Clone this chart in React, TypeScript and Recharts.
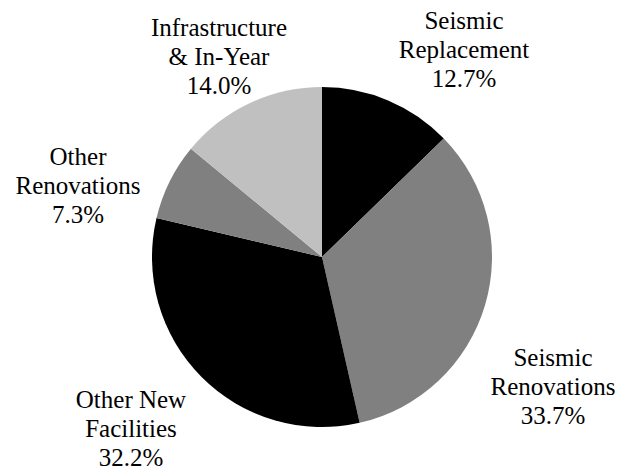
import { PieChart, Pie, Cell } from 'recharts';

// slice names, split where the label wraps
const CATEGORIES = [
  'Seismic\nReplacement',
  'Seismic\nRenovations',
  'Other New\nFacilities',
  'Other\nRenovations',
  'Infrastructure\n& In-Year',
];
const SHARES = [12.7, 33.7, 32.2, 7.3, 14.0];
const COLORS = ['#000000', '#808080', '#000000', '#808080', '#c0c0c0'];

// label anchor: centre x and first baseline
const LABEL_POS = [
  { x: 464, y: 29 },
  { x: 553, y: 366 },
  { x: 131, y: 408 },
  { x: 78, y: 165 },
  { x: 219, y: 36 },
];
const LINE_H = 29;
const FONT = '"Liberation Serif", "Times New Roman", Tinos, serif';

const data = CATEGORIES.map((name, i) => ({ name, value: SHARES[i] }));

const css = `
html body #root .pie-wrap, html body #root .pie-wrap *,
html body #root .pie-wrap svg text, html body #root .pie-wrap svg tspan {
  font-family: ${FONT} !important;
}
html body #root .pie-wrap .pie-label { font-size: 25px !important; }
`;

function renderLabel(props: any) {
  const { index } = props;
  const pos = LABEL_POS[index];
  const lines = [...CATEGORIES[index].split('\n'), `${SHARES[index].toFixed(1)}%`];
  return (
    <text
      key={`lbl-${index}`}
      className="pie-label"
      x={pos.x}
      y={pos.y}
      textAnchor="middle"
      fill="#000"
      style={{ fontFamily: FONT, fontSize: 25 }}
    >
      {lines.map((l, i) => (
        <tspan key={i} x={pos.x} y={pos.y + i * LINE_H} style={{ fontFamily: FONT }}>
          {l}
        </tspan>
      ))}
    </text>
  );
}

export default function App() {
  return (
    <div
      className="pie-wrap"
      style={{ position: 'absolute', left: 0, top: 0, width: 624, height: 470, background: '#fff', fontFamily: FONT }}
    >
      <style>{css}</style>
      <PieChart width={624} height={470} margin={{ top: 0, right: 0, bottom: 0, left: 0 }}>
        <Pie
          data={data}
          dataKey="value"
          cx={322}
          cy={257}
          outerRadius={170}
          startAngle={90}
          endAngle={-270}
          stroke="none"
          label={renderLabel}
          labelLine={false}
          isAnimationActive={false}
        >
          {data.map((d, i) => (
            <Cell key={d.name} fill={COLORS[i]} />
          ))}
        </Pie>
      </PieChart>
    </div>
  );
}
